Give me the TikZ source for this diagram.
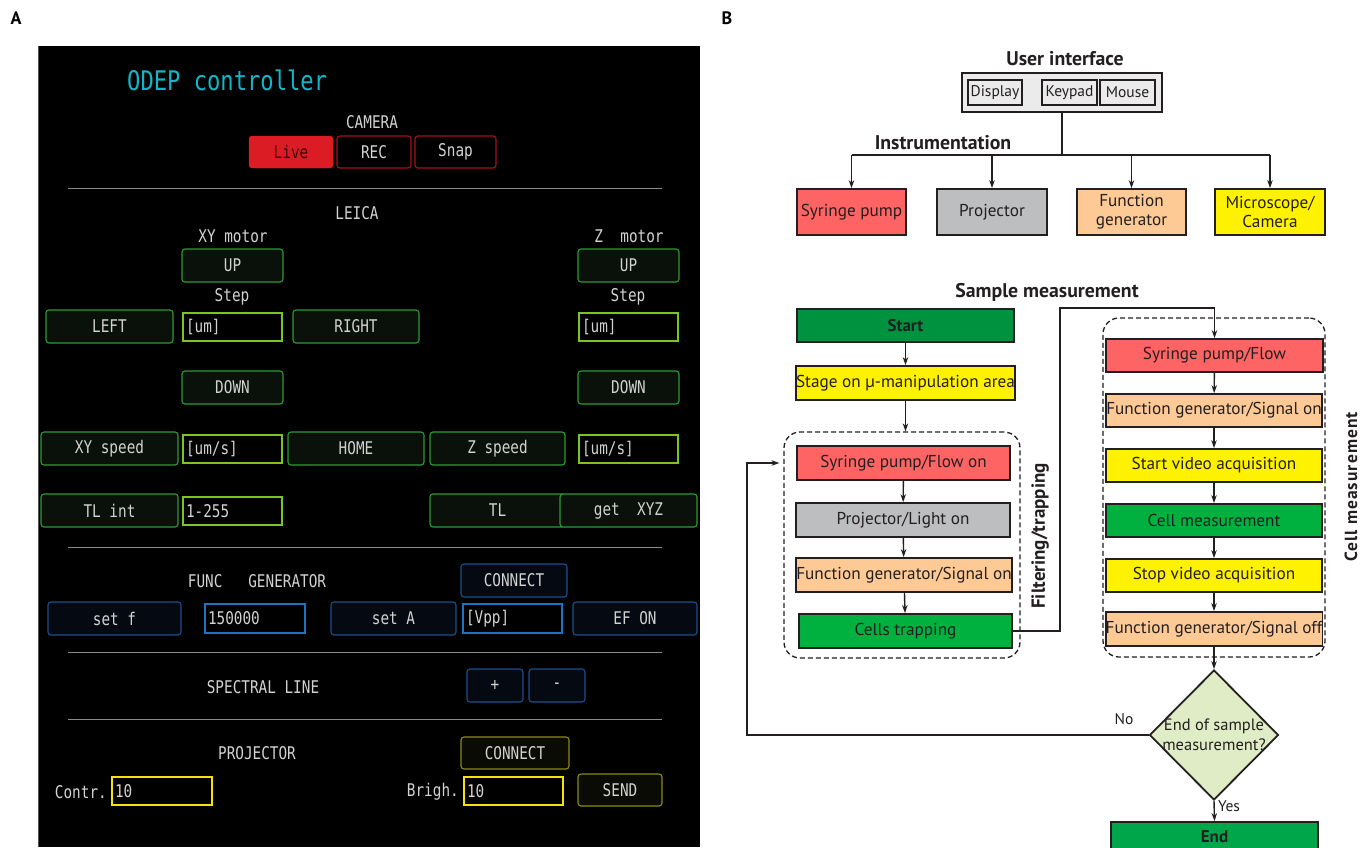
\documentclass[tikz,border=0pt]{standalone}
\usepackage{fontspec}
\setmainfont{PT Sans}
\newfontfamily\guifont{DejaVu Sans Mono}[FakeStretch=0.82]
\usetikzlibrary{shapes.geometric,arrows.meta}
\definecolor{guitext}{HTML}{D2D2D2}
\definecolor{gbord}{HTML}{2E9B35}
\definecolor{gfill}{HTML}{0A100A}
\definecolor{gfield}{HTML}{7CC41F}
\definecolor{bbord}{HTML}{1D4F8A}
\definecolor{bfill}{HTML}{050A12}
\definecolor{bfield}{HTML}{1B74C1}
\definecolor{ybord}{HTML}{8C8A14}
\definecolor{yfill}{HTML}{0B0B05}
\definecolor{yfield}{HTML}{F2E20E}
\definecolor{rlive}{HTML}{DC1C24}
\definecolor{livetxt}{HTML}{3C0508}
\definecolor{rbord}{HTML}{A8121A}
\definecolor{odep}{HTML}{13B5C8}
\definecolor{sepc}{HTML}{8A8A8A}
\definecolor{bred}{HTML}{FF6464}
\definecolor{bgray}{HTML}{BCBEC0}
\definecolor{bpeach}{HTML}{FDCA96}
\definecolor{byel}{HTML}{FFF200}
\definecolor{bdkgreen}{HTML}{00933F}
\definecolor{bgreen}{HTML}{00B140}
\definecolor{bendg}{HTML}{00A64A}
\definecolor{bdiam}{HTML}{E0ECC6}
\definecolor{ink}{HTML}{231F20}
\definecolor{uifill}{HTML}{EBEBEB}
\newcommand\bx[7]{%
  \pgfmathsetmacro\bxw{#5-#3}\pgfmathsetmacro\bxh{#6-#4}%
  \node[#2, minimum width=\bxw pt, minimum height=\bxh pt] (#1) at ({(#3+#5)/2},{(#4+#6)/2}) {#7};}
\newcommand\fd[7]{%
  \pgfmathsetmacro\bxw{#5-#3-6}\pgfmathsetmacro\bxh{#6-#4}%
  \node[#2, text width=\bxw pt, align=left, inner xsep=3pt, inner ysep=0pt, minimum height=\bxh pt] (#1) at ({(#3+#5)/2},{(#4+#6)/2}) {#7};}
\tikzset{
  gui/.style={font=\guifont\fontsize{17.5}{20}\selectfont, text=guitext, inner sep=0pt},
  gbtn/.style={gui, draw=gbord, fill=gfill, rounded corners=3pt, line width=1.1pt},
  gfld/.style={gui, draw=gfield, fill=black, line width=2.6pt},
  bbtn/.style={gui, draw=bbord, fill=bfill, rounded corners=3pt, line width=1.1pt},
  bfld/.style={gui, draw=bfield, fill=black, line width=2.6pt},
  ybtn/.style={gui, draw=ybord, fill=yfill, rounded corners=3pt, line width=1.1pt},
  yfld/.style={gui, draw=yfield, fill=black, line width=2.6pt},
  rbtn/.style={gui, draw=rbord, fill=black, rounded corners=3pt, line width=1.1pt},
  sepl/.style={draw=sepc, line width=1pt},
  btxt/.style={font=\fontsize{17.2}{19}\selectfont, text=ink, inner sep=0pt, align=center},
  bbox/.style={btxt, draw=ink, line width=1.8pt},
  bhead/.style={font=\bfseries\fontsize{19.8}{22}\selectfont, text=ink, inner sep=0pt},
  uiin/.style={font=\fontsize{15.5}{17}\selectfont, text=ink, inner sep=0pt, draw=ink, fill=uifill, line width=1.6pt},
  dbox/.style={draw=ink, dashed, dash pattern=on 5pt off 3pt, line width=1.3pt, rounded corners=16pt},
  conn/.style={draw=ink, line width=1.4pt},
  arr/.style={conn, -{Stealth[length=8pt,width=5.5pt]}},
  plabel/.style={font=\bfseries\fontsize{18}{20}\selectfont, inner sep=0pt},
}
\begin{document}
\begin{tikzpicture}[x=1pt,y=-1pt]
\useasboundingbox[fill=white] (0,0) rectangle (1371,847);
% ---------------- Panel A ----------------
\node[plabel] (la) at (16,18) {A};
\fill[black] (38,46) rectangle (700,847);
\draw[draw=sepc!60!black, line width=1pt] (38.5,46) -- (38.5,847);
\node[gui, text=odep, font=\guifont\fontsize{27}{30}\selectfont, anchor=west] (title) at (127,80) {ODEP controller};
\node[gui] (cam) at (372,122) {CAMERA};
\bx{live}{gui, fill=rlive, draw=rlive, rounded corners=3pt, text=livetxt}{249}{136}{333}{168}{Live}
\bx{rec}{rbtn}{337}{136}{411}{168}{REC}
\bx{snap}{rbtn}{415}{136}{496}{168}{Snap}
\draw[sepl] (68,188) -- (662,188);
\node[gui] (leica) at (357,213) {LEICA};
\node[gui] (xym) at (233,236) {XY motor};
\node[gui] (zm) at (629,236) {Z\ \ motor};
\bx{up}{gbtn}{182}{249}{283}{282}{UP}
\bx{zup}{gbtn}{578}{249}{679}{282}{UP}
\node[gui] (st1) at (232,297) {Step};
\node[gui] (st2) at (628,297) {Step};
\bx{left}{gbtn}{46}{310}{173}{343}{LEFT}
\fd{um1}{gfld}{183}{313}{282}{341}{[um]}
\bx{right}{gbtn}{293}{310}{419}{343}{RIGHT}
\fd{um2}{gfld}{579}{313}{678}{341}{[um]}
\bx{down}{gbtn}{182}{371}{283}{404}{DOWN}
\bx{zdown}{gbtn}{578}{371}{679}{404}{DOWN}
\bx{xysp}{gbtn}{41}{432}{178}{465}{XY speed}
\fd{ums1}{gfld}{183}{435}{282}{463}{[um/s]}
\bx{home}{gbtn}{288}{432}{424}{465}{HOME}
\bx{zsp}{gbtn}{430}{432}{565}{465}{Z speed}
\fd{ums2}{gfld}{579}{435}{678}{463}{[um/s]}
\bx{tlint}{gbtn}{41}{494}{178}{527}{TL int}
\fd{tlv}{gfld}{183}{497}{282}{525}{1-255}
\bx{tl}{gbtn}{430}{494}{565}{527}{TL}
\bx{getxyz}{gbtn}{560}{494}{697}{527}{get\ \ XYZ}
\draw[sepl] (68,547) -- (662,547);
\node[gui] (func) at (257,581) {FUNC\ \ \ GENERATOR};
\bx{fconn}{bbtn}{461}{564}{567}{597}{CONNECT}
\bx{setf}{bbtn}{48}{602}{181}{635}{set f}
\fd{fval}{bfld}{205}{604}{305}{633}{150000}
\bx{seta}{bbtn}{331}{602}{456}{635}{set A}
\fd{vpp}{bfld}{463}{604}{562}{633}{[Vpp]}
\bx{efon}{bbtn}{573}{602}{697}{635}{EF ON}
\draw[sepl] (68,652) -- (662,652);
\node[gui] (spec) at (263,687) {SPECTRAL LINE};
\bx{plus}{bbtn}{467}{669}{523}{702}{+}
\bx{minus}{bbtn}{529}{669}{585}{702}{-}
\draw[sepl] (68,719) -- (662,719);
\node[gui] (proj) at (257,753) {PROJECTOR};
\bx{pconn}{ybtn}{461}{737}{569}{769}{CONNECT}
\node[gui, anchor=east] (contr) at (107,792) {Contr.};
\fd{cval}{yfld}{112}{777}{212}{805}{10}
\node[gui, anchor=east] (brigh) at (459,792) {Brigh.};
\fd{bval}{yfld}{464}{777}{563}{805}{10}
\bx{send}{ybtn}{578}{774}{662}{806}{SEND}
% ---------------- Panel B ----------------
\node[plabel] (lb) at (727,18) {B};
\node[bhead] (uit) at (1065,59) {User interface};
\bx{ui}{draw=ink, fill=uifill, line width=1.8pt}{962}{73}{1162}{112}{}
\bx{disp}{uiin}{968}{80}{1022}{105}{Display}
\bx{keyp}{uiin}{1042}{80}{1097}{105}{Keypad}
\bx{mouse}{uiin}{1100}{80}{1155}{105}{Mouse}
\node[bhead] (inst) at (943,143) {Instrumentation};
\bx{sp}{bbox, fill=bred}{797}{189}{906}{235}{Syringe pump}
\bx{pj}{bbox, fill=bgray}{937}{189}{1047}{235}{Projector}
\bx{fg}{bbox, fill=bpeach}{1077}{189}{1186}{235}{Function\\generator}
\bx{mc}{bbox, fill=byel}{1215}{189}{1325}{235}{Microscope/\\Camera}
\coordinate (bus) at (1062,155);
\draw[conn] (ui.south) -- (bus);
\draw[conn] (sp.north |- bus) -- (mc.north |- bus);
\foreach \n in {sp,pj,fg,mc} \draw[arr] (\n.north |- bus) -- (\n.north);
\node[bhead] (smt) at (1047,292) {Sample measurement};
\bx{start}{bbox, fill=bdkgreen, font=\bfseries\fontsize{17}{19}\selectfont}{797}{309}{1014}{342}{Start}
\bx{stage}{bbox, fill=byel}{797}{366}{1014}{400}{Stage on µ-manipulation area}
\bx{fbox}{dbox}{784}{432}{1020}{658}{}
\bx{fsp}{bbox, fill=bred}{797}{446}{1010}{480}{Syringe pump/Flow on}
\bx{fpj}{bbox, fill=bgray}{796}{503}{1010}{537}{Projector/Light on}
\bx{ffg}{bbox, fill=bpeach}{797}{558}{1011}{592}{Function generator/Signal on}
\bx{trap}{bbox, fill=bgreen}{799}{614}{1012}{648}{Cells trapping}
\node[bhead, rotate=90, font=\bfseries\fontsize{19}{21}\selectfont] (ftl) at (1040,536) {Filtering/trapping};
\bx{cbox}{dbox}{1103}{318}{1325}{657}{}
\bx{csp}{bbox, fill=bred}{1106}{339}{1323}{372}{Syringe pump/Flow}
\bx{cfg}{bbox, fill=bpeach}{1106}{394}{1322}{427}{Function generator/Signal on}
\bx{csv}{bbox, fill=byel}{1106}{449}{1322}{482}{Start video acquisition}
\bx{cm}{bbox, fill=bgreen}{1106}{504}{1322}{537}{Cell measurement}
\bx{cstop}{bbox, fill=byel}{1106}{559}{1322}{592}{Stop video acquisition}
\bx{cfoff}{bbox, fill=bpeach}{1106}{612}{1322}{646}{Function generator/Signal off}
\node[bhead, rotate=90, font=\bfseries\fontsize{17.5}{19}\selectfont\addfontfeature{LetterSpace=6}] (cml) at (1351,487) {Cell measurement};
\node[diamond, draw=ink, fill=bdiam, line width=1.8pt, minimum width=129pt, minimum height=130pt, inner sep=0pt, aspect=1] (dec) at (1214,735) {};
\node[btxt, font=\fontsize{16.5}{20}\selectfont] (dect) at (dec.center) {End of sample\\measurement?};
\bx{endn}{bbox, fill=bendg, font=\bfseries\fontsize{17}{19}\selectfont}{1111}{822}{1318}{852}{End}
\draw[arr] (start) -- (stage);
\draw[arr] (stage.south) -- (stage.south |- fbox.north);
\draw[arr] (fsp) -- (fpj);
\draw[arr] (fpj) -- (ffg);
\draw[arr] (ffg) -- (trap);
\coordinate (k1) at (1060,308);
\draw[arr] (trap.east) -| (k1) -| (csp.north);
\draw[arr] (csp) -- (cfg);
\draw[arr] (cfg) -- (csv);
\draw[arr] (csv) -- (cm);
\draw[arr] (cm) -- (cstop);
\draw[arr] (cstop) -- (cfoff);
\draw[arr] (cfoff.south) -- (dec.north);
\coordinate (lp) at (747,735);
\draw[arr, shorten >=4pt] (dec.west) -- (lp) |- (fbox.west |- fsp.west);
\draw[arr] (dec.south) -- (endn.north);
\node[btxt, font=\fontsize{15.5}{17}\selectfont] (no) at (1124,719) {No};
\node[btxt, font=\fontsize{15.5}{17}\selectfont, anchor=west] (yes) at (1218,806) {Yes};
\end{tikzpicture}
\end{document}
